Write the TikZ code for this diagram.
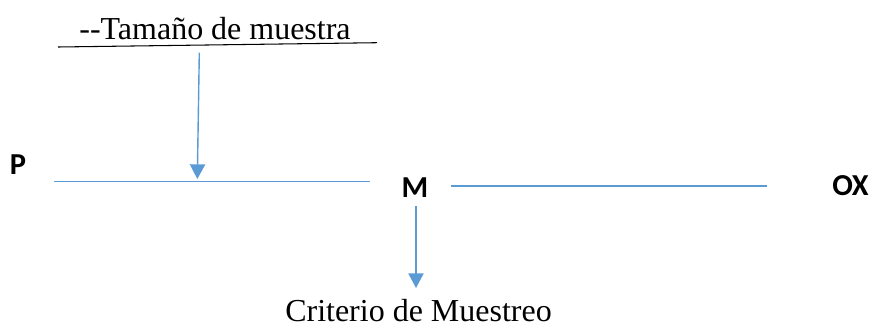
\documentclass[tikz,border=0pt]{standalone}
\usepackage{fontspec}
\setmainfont{Liberation Serif}
\newfontfamily\lblfont{Carlito}[BoldFont={Carlito Bold}]
\usetikzlibrary{arrows.meta}
\definecolor{lineblue}{RGB}{91,155,213}
\tikzset{
	bigtext/.style={inner sep=0pt,anchor=base,font=\fontsize{27.3}{32}\selectfont},
	letter/.style={inner sep=0pt,anchor=base,font=\lblfont\bfseries\fontsize{26}{30}\selectfont},
	blueline/.style={draw=lineblue,line width=1.2pt},
	bluearrow/.style={blueline,-{Triangle[length=12.5pt,width=13pt]}}
}
\begin{document}
\begin{tikzpicture}[x=0.03cm,y=-0.03cm]
	\useasboundingbox (0,0) rectangle (872,326);
	\node[bigtext] (tam) at (215,39) {{-}{-}Tamaño de muestra};
	\coordinate (ul) at (58,47);
	\coordinate (ur) at (377,42.7);
	\draw[line width=0.9pt] (ul) -- (ur);

	\node[letter] (P) at (18,174) {P};
	\node[letter] (M) at (415,197) {M};
	\node[letter] (OX) at (850.5,195) {OX};

	\coordinate (pl) at (54,181.3);
	\coordinate (pr) at (370,181.3);
	\draw[blueline] (pl) -- (pr);
	\coordinate (ml) at (451,186);
	\coordinate (mr) at (767,186);
	\draw[blueline] (ml) -- (mr);

	\coordinate (a1) at (199.3,52.7);
	\coordinate (a2) at (197.3,179);
	\draw[bluearrow] (a1) -- (a2);

	\node[bigtext,text depth=0pt] (crit) at (418.5,321) {Criterio de Muestreo};
	\coordinate (b1) at (416,206);
	\coordinate (b2) at (416,288);
	\draw[bluearrow] (b1) -- (b2);
\end{tikzpicture}
\end{document}
